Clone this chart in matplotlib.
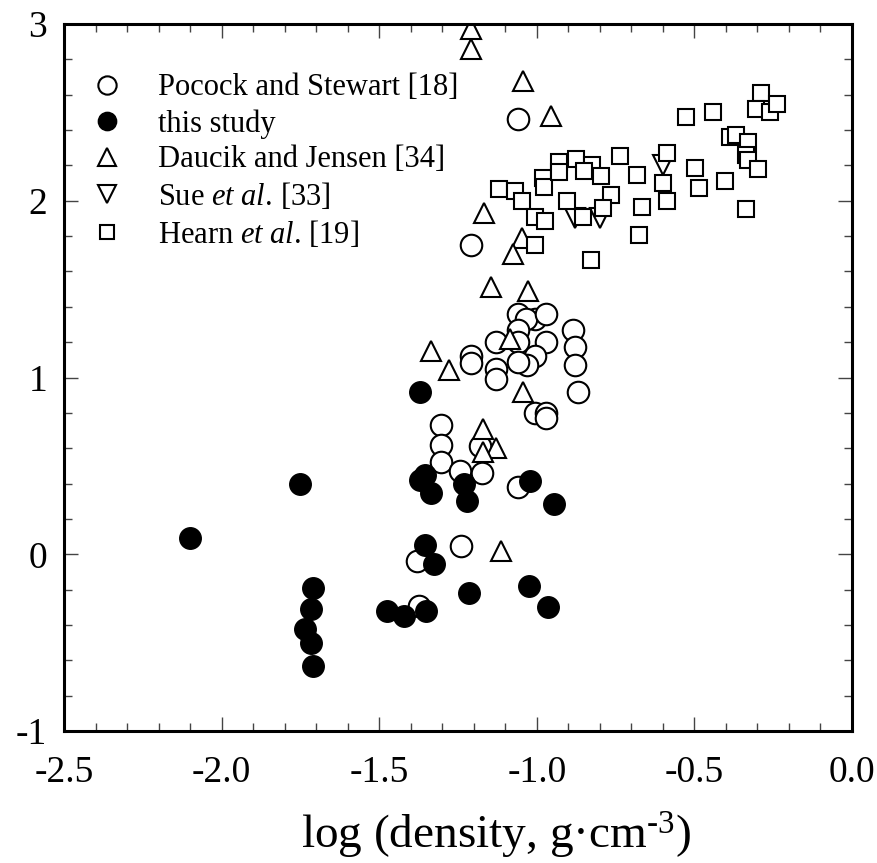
import matplotlib
matplotlib.use("Agg")
import matplotlib.pyplot as plt
from matplotlib.ticker import MultipleLocator, FormatStrFormatter

# Pocock and Stewart [18]
pocock_x = [-1.06, -1.21, -1.06, -1.005, -1.035, -0.97, -1.06, -1.13, -1.06, -0.97,
            -1.005, -1.03, -1.06, -1.21, -1.21, -1.13, -1.13, -0.885, -0.88, -0.88,
            -0.87, -1.005, -0.97, -0.97, -1.305, -1.305, -1.305, -1.245, -1.175, -1.18,
            -1.06, -1.24, -1.38, -1.375]
pocock_y = [2.46, 1.75, 1.36, 1.33, 1.33, 1.36, 1.27, 1.20, 1.20, 1.20,
            1.12, 1.07, 1.09, 1.12, 1.08, 1.05, 0.99, 1.27, 1.17, 1.07,
            0.92, 0.80, 0.80, 0.77, 0.73, 0.62, 0.52, 0.47, 0.46, 0.61,
            0.38, 0.045, -0.04, -0.29]

# this study
study_x = [-2.10, -1.75, -1.71, -1.715, -1.735, -1.715, -1.71, -1.475, -1.42, -1.35,
           -1.37, -1.37, -1.355, -1.335, -1.355, -1.325, -1.23, -1.22, -1.215, -1.02,
           -0.945, -1.025, -0.965]
study_y = [0.09, 0.40, -0.19, -0.31, -0.425, -0.50, -0.63, -0.32, -0.35, -0.32,
           0.92, 0.42, 0.45, 0.345, 0.05, -0.055, 0.40, 0.30, -0.22, 0.415,
           0.285, -0.18, -0.30]

# Daucik and Jensen [34]
daucik_x = [-1.21, -1.21, -1.045, -0.955, -1.167, -1.048, -1.077, -1.146, -1.027,
            -1.337, -1.279, -1.085, -1.043, -1.17, -1.13, -1.17, -1.115]
daucik_y = [2.97, 2.86, 2.68, 2.48, 1.93, 1.79, 1.70, 1.51, 1.49,
            1.15, 1.04, 1.22, 0.92, 0.71, 0.60, 0.58, 0.02]

# Sue et al. [33]
sue_x = [-0.88, -0.80, -0.60]
sue_y = [1.90, 1.90, 2.20]

# Hearn et al. [19]
hearn_x = [-1.119, -1.069, -1.048, -1.006, -0.974, -1.006, -0.981, -0.977, -0.929, -0.929,
           -0.876, -0.826, -0.849, -0.797, -0.905, -0.853, -0.765, -0.789, -0.736, -0.681,
           -0.667, -0.676, -0.828, -0.588, -0.599, -0.588, -0.527, -0.440, -0.498, -0.484,
           -0.403, -0.387, -0.368, -0.329, -0.337, -0.329, -0.297, -0.337, -0.289, -0.306,
           -0.260, -0.237]
hearn_y = [2.065, 2.057, 2.00, 1.91, 1.887, 1.75, 2.127, 2.076, 2.22, 2.165,
           2.234, 2.202, 2.17, 2.14, 2.00, 1.906, 2.033, 1.958, 2.253, 2.146,
           1.967, 1.806, 1.665, 2.268, 2.102, 2.00, 2.476, 2.50, 2.184, 2.07,
           2.113, 2.359, 2.372, 2.334, 2.259, 2.23, 2.178, 1.951, 2.608, 2.519,
           2.504, 2.546]

plt.rcParams['font.family'] = 'Liberation Serif'
plt.rcParams['mathtext.fontset'] = 'custom'
plt.rcParams['mathtext.rm'] = 'Liberation Serif'
plt.rcParams['mathtext.it'] = 'Liberation Serif:italic'
plt.rcParams['axes.unicode_minus'] = False

fig = plt.figure(figsize=(8.78, 8.63), dpi=100)
ax = fig.add_axes([64 / 878, 1 - 731 / 863, 788 / 878, 707 / 863])

open_style = dict(ls='none', mfc='white', mec='black', mew=1.5)
ax.plot(pocock_x, pocock_y, 'o', ms=15.5, label='Pocock and Stewart [18]', **open_style)
ax.plot(study_x, study_y, 'o', ms=15.5, ls='none', mfc='black', mec='black',
        label='this study')
ax.plot(daucik_x, daucik_y, '^', ms=15, label='Daucik and Jensen [34]', **open_style)
ax.plot(sue_x, sue_y, 'v', ms=15, label=r'Sue $\it{et\ al.}\,$[33]', **open_style)
ax.plot(hearn_x, hearn_y, 's', ms=11.5, label=r'Hearn $\it{et\ al}$. [19]', **open_style)

ax.set_xlim(-2.5, 0.0)
ax.set_ylim(-1, 3)
ax.xaxis.set_major_locator(MultipleLocator(0.5))
ax.xaxis.set_minor_locator(MultipleLocator(0.1))
ax.yaxis.set_major_locator(MultipleLocator(1))
ax.yaxis.set_minor_locator(MultipleLocator(0.2))
ax.xaxis.set_major_formatter(FormatStrFormatter('%.1f'))
ax.yaxis.set_major_formatter(FormatStrFormatter('%d'))

ax.tick_params(which='both', direction='in', top=True, right=True, color='#444444')
ax.tick_params(which='major', length=10, width=1.0, labelsize=27)
ax.tick_params(which='minor', length=6, width=1.0)
ax.tick_params(axis='x', which='major', pad=18)
ax.tick_params(axis='y', which='major', pad=12)
for s in ax.spines.values():
    s.set_linewidth(2.2)

ax.set_xlabel('log (density, g\u00b7cm$^{\u20103}$)', fontsize=34)
ax.xaxis.set_label_coords(0.548, -0.112)

ax.legend(loc='upper left', bbox_to_anchor=(0.0355, 0.93), frameon=False,
          fontsize=22, handlelength=1.0, handletextpad=1.16, labelspacing=0.22,
          borderpad=0, borderaxespad=0, markerscale=0.85)

fig.savefig('out.png', dpi=100)
